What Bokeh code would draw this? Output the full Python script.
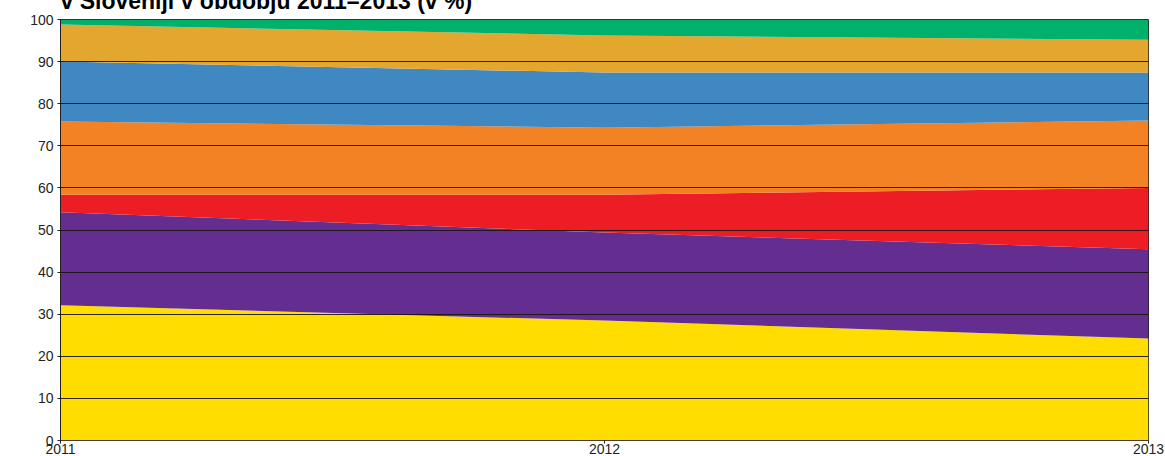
from bokeh.plotting import figure
from bokeh.models import Range1d, FixedTicker, Label
from bokeh.embed import file_html
from bokeh.resources import INLINE

years = [2011, 2012, 2013]
tick_labels = {2011: "2011", 2012: "2012", 2013: "2013"}

# shares (in %) of each band, bottom to top
s1 = [32.1, 28.5, 24.2]   # yellow
s2 = [22.1, 20.9, 21.2]   # purple
s3 = [4.2, 9.0, 14.6]     # red
s4 = [17.4, 15.9, 16.0]   # orange
s5 = [14.2, 13.1, 11.4]   # blue
s6 = [8.8, 8.8, 7.8]      # gold
s7 = [1.2, 3.8, 4.8]      # green

series = ["s1", "s2", "s3", "s4", "s5", "s6", "s7"]
colors = ["#ffdd00", "#632e8f", "#ed1d25", "#f28223", "#3f88c1", "#e3a72f", "#00b16c"]

data = dict(x=years, s1=s1, s2=s2, s3=s3, s4=s4, s5=s5, s6=s6, s7=s7)

SHIFT = 20
p = figure(width=1165, height=456 + SHIFT, output_backend="svg", toolbar_location=None,
           x_range=Range1d(2011, 2013), y_range=Range1d(0, 100),
           title="v Sloveniji v obdobju 2011–2013 (v %)",
           min_border_left=60, min_border_right=17, min_border_top=19 + SHIFT, min_border_bottom=16)
p.margin = (-SHIFT, 0, 0, 0)

p.title.text_font = "Liberation Sans"
p.title.text_font_style = "bold"
p.title.text_font_size = "23px"
p.title.text_color = "#000000"
p.title.align = "left"
p.title.standoff = 11

p.varea_stack(stackers=series, x="x", color=colors, source=data)

p.background_fill_color = "white"
p.border_fill_color = "white"
p.outline_line_color = "#231f20"
p.outline_line_width = 1

p.xgrid.visible = False
p.ygrid.ticker = FixedTicker(ticks=list(range(0, 101, 10)))
p.ygrid.grid_line_color = "#1a1410"
p.ygrid.grid_line_alpha = 0.9
p.ygrid.grid_line_width = 1
p.ygrid.level = "overlay"

p.yaxis.ticker = FixedTicker(ticks=list(range(0, 101, 10)))
p.yaxis.major_label_text_font = "Liberation Sans"
p.yaxis.major_label_text_font_size = "14px"
p.yaxis.major_label_text_color = "#231f20"
p.yaxis.major_tick_out = 3
p.yaxis.major_tick_in = 0
p.yaxis.minor_tick_out = 0
p.yaxis.minor_tick_in = 0
p.yaxis.major_label_standoff = 4
p.yaxis.axis_line_color = "#231f20"
p.yaxis.major_tick_line_color = "#231f20"

p.xaxis.ticker = FixedTicker(ticks=years)
p.xaxis.major_label_overrides = tick_labels
p.xaxis.major_label_text_font = "Liberation Sans"
p.xaxis.major_label_text_font_size = "14px"
p.xaxis.major_label_text_color = "#231f20"
p.xaxis.major_tick_out = 3
p.xaxis.major_tick_in = 0
p.xaxis.minor_tick_out = 0
p.xaxis.minor_tick_in = 0
p.xaxis.major_label_standoff = 0
p.xaxis.axis_line_color = "#4a3a20"
p.xaxis.major_tick_line_color = "#231f20"

pct = Label(x=2010.915, y=50, text="%", text_align="center", text_baseline="middle",
            text_font="Liberation Sans", text_font_size="13px", text_color="#231f20")
p.add_layout(pct)

open("out.html", "w").write(file_html(p, INLINE))
